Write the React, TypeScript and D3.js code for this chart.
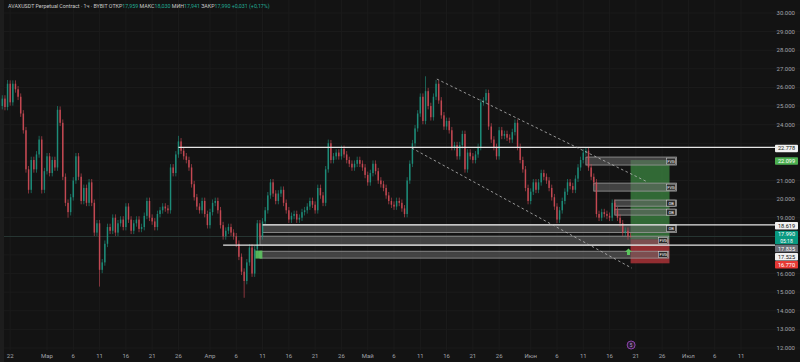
import * as d3 from "d3";

const W = 800;
const H = 362;

// 12h closes, starting 20 Feb 2025 12:00 UTC
const closes = [
  25.4, 24.95, 26.2, 25.2, 26.2, 25.9, 25.5, 24.6, 23.7, 21.6,
  20.5, 22.1, 21.6, 22.4, 23.2, 20.5, 21.5, 22.3, 21.4, 22.1,
  21.7, 24.8, 24.1, 21.2, 19.8, 19.3, 20.1, 21.0, 22.3, 21.2,
  19.9, 20.6, 19.8, 20.9, 19.8, 18.2, 18.7, 16.2, 16.6, 17.6,
  18.5, 18.3, 19.0, 18.2, 18.7, 18.9, 18.5, 19.6, 18.9, 18.3,
  18.7, 18.9, 18.4, 18.5, 19.1, 19.9, 19.0, 18.8, 18.5, 19.2,
  19.4, 19.6, 19.5, 19.4, 21.7, 21.4, 22.4, 23.1, 22.6, 22.3,
  22.1, 21.7, 20.8, 20.1, 19.6, 19.4, 19.9, 19.2, 18.6, 19.3,
  19.8, 19.9, 19.4, 18.6, 18.0, 18.3, 18.5, 18.2, 18.0, 17.6,
  16.9, 16.1, 15.6, 16.6, 17.4, 16.0, 17.3, 18.7, 18.0, 18.8,
  19.4, 20.2, 20.9, 20.3, 19.9, 20.3, 20.5, 19.8, 19.4, 18.9,
  19.1, 19.2, 18.9, 19.0, 19.3, 19.4, 19.6, 19.9, 19.7, 19.4,
  20.6, 20.2, 19.8, 21.6, 23.0, 22.1, 22.3, 22.5, 22.3, 22.7,
  22.4, 22.1, 21.9, 21.7, 21.9, 22.1, 21.9, 21.7, 21.3, 20.9,
  21.4, 21.9, 21.5, 21.0, 20.8, 20.6, 20.2, 19.9, 19.7, 19.6,
  19.9, 19.8, 19.5, 19.2, 21.0, 21.9, 23.0, 23.8, 24.6, 25.5,
  24.2, 25.8, 25.0, 24.4, 25.5, 26.2, 25.3, 24.5, 23.9, 24.2,
  23.7, 22.8, 22.9, 22.3, 22.9, 23.5, 21.6, 22.5, 22.3, 22.1,
  22.4, 22.8, 25.2, 25.3, 25.7, 23.9, 23.2, 22.8, 22.3, 23.7,
  23.4, 23.5, 23.3, 23.2, 23.6, 24.1, 22.8, 22.1, 21.6, 20.6,
  19.9, 20.4, 20.9, 20.5, 20.9, 21.4, 21.2, 21.0, 20.6, 20.1,
  19.6, 18.9, 19.4, 19.9, 20.4, 20.9, 20.7, 20.5, 21.1, 21.7,
  22.1, 22.5, 22.6, 21.7, 21.2, 20.9, 19.2, 19.0, 19.3, 19.2,
  19.1, 19.0, 19.8, 19.4, 19.0, 18.7, 18.2, 18.3, 18.0, 17.99,
];
const firstOpen = 25.0;
const wickHighs: [number, number][] = [
  [2, 26.4], [14, 23.4], [21, 25.0], [67, 23.4], [124, 23.2],
  [161, 26.6], [165, 26.4], [184, 25.9], [222, 22.8],
];
const wickLows: [number, number][] = [
  [10, 20.3], [15, 20.3], [25, 19.0], [37, 15.3], [92, 14.7],
  [211, 18.7], [239, 17.94],
];

const priceTicks = d3.range(12, 31, 1);
const timeTicks: [number, number, string][] = [
  [1, 22, "22"], [2, 1, "Мар"], [2, 6, "6"], [2, 11, "11"], [2, 16, "16"], [2, 21, "21"], [2, 26, "26"],
  [3, 1, "Апр"], [3, 6, "6"], [3, 11, "11"], [3, 16, "16"], [3, 21, "21"], [3, 26, "26"],
  [4, 1, "Май"], [4, 6, "6"], [4, 11, "11"], [4, 16, "16"], [4, 21, "21"], [4, 26, "26"],
  [5, 1, "Июн"], [5, 6, "6"], [5, 11, "11"], [5, 16, "16"], [5, 21, "21"], [5, 26, "26"],
  [6, 1, "Июл"], [6, 6, "6"], [6, 11, "11"],
];

// horizontal levels: price, start candle index
const levels: [number, number][] = [
  [22.778, 67],
  [18.619, 99],
  [17.525, 84],
];

// zones: top, bottom, start candle, end candle, label
const zones: [number, number, number, number, string][] = [
  [22.26, 21.83, 222, 256.5, "FVG"],
  [20.86, 20.43, 225, 256.5, "FVG"],
  [19.95, 19.62, 233, 256.5, "OB"],
  [19.46, 19.14, 233, 256.5, "OB"],
  [18.619, 18.2, 99, 256.5, "OB"],
  [18.01, 17.53, 98, 253.5, "FVG"],
  [17.2, 16.83, 98, 253.5, "FVG"],
];

// long position tool
const target = 22.099;
const entry = 17.835;
const stopBox = 16.55;
const posStart = 239;
const posEnd = 253.8;

// channel: [candleIdx, price]
const upperChannel: [number, number][] = [[165.3, 26.45], [245.6, 20.91]];
const lowerChannel: [number, number][] = [[155.8, 22.74], [239.5, 16.29]];

const tags: { p: number; bg: string; fg: string; sub?: string }[] = [
  { p: 22.778, bg: "#f0f0f0", fg: "#111" },
  { p: 22.099, bg: "#4caf50", fg: "#fff" },
  { p: 18.619, bg: "#f0f0f0", fg: "#111" },
  { p: 17.99, bg: "#089981", fg: "#fff", sub: "05:18" },
  { p: 17.835, bg: "#6d6f78", fg: "#fff" },
  { p: 17.525, bg: "#f0f0f0", fg: "#111" },
  { p: 16.77, bg: "#e53935", fg: "#fff" },
];

const FONT = "Roboto, 'DejaVu Sans', sans-serif";
const t0 = Date.UTC(2025, 1, 20, 12);
const HALF = 12 * 3600 * 1000;

export default function App() {
  const x = d3
    .scaleUtc()
    .domain([Date.UTC(2025, 1, 22), Date.UTC(2025, 6, 11)])
    .range([10.2, 741]);
  const y = d3.scaleLinear().domain([12, 30]).range([348, 13]);
  const xi = (i: number) => x(t0 + i * HALF);
  const fmt = d3.format(".3f");

  const hiMap = new Map(wickHighs);
  const loMap = new Map(wickLows);
  const candles = closes.map((c, i) => {
    const o = i === 0 ? firstOpen : closes[i - 1];
    const hi = hiMap.get(i) ?? Math.max(o, c) + 0.18;
    const lo = loMap.get(i) ?? Math.min(o, c) - 0.18;
    return { i, o, c, hi, lo, up: c >= o };
  });

  // stack price tags so they don't overlap
  let prevBottom = -Infinity;
  const placed = tags.map((t) => {
    const h = t.sub ? 13.5 : 7.5;
    const cy = Math.max(y(t.p) + 1, prevBottom + h / 2 + 0.6);
    prevBottom = cy + h / 2;
    return { ...t, cy, h };
  });
  // axis labels hidden behind tags
  const visibleTicks = priceTicks.filter((p) =>
    placed.every((t) => Math.abs(y(p) - t.cy) > t.h / 2 + 3.5)
  );

  return (
    <div style={{ position: "fixed", left: 0, top: 0, width: W, height: H, background: "#131313" }}>
      <svg width={W} height={H} style={{ display: "block", fontFamily: FONT }}>
        <rect width={W} height={H} fill="#131313" />
        <rect width={4} height={H} fill="#1d1d1d" />

        {/* grid */}
        {priceTicks.map((p) => (
          <line key={"hg" + p} x1={4} x2={W} y1={y(p)} y2={y(p)} stroke="#1b1b1b" strokeWidth={1} />
        ))}
        {timeTicks.map(([m, d]) => (
          <line key={"vg" + m + "-" + d} x1={x(Date.UTC(2025, m, d))} x2={x(Date.UTC(2025, m, d))} y1={0} y2={H - 12} stroke="#1b1b1b" strokeWidth={1} />
        ))}

        {/* current price line */}
        <line x1={4} x2={775} y1={y(17.99)} y2={y(17.99)} stroke="#2b3d3a" strokeWidth={0.8} />

        {/* position tool */}
        <rect x={xi(posStart)} y={y(target)} width={xi(posEnd) - xi(posStart)} height={y(entry) - y(target)} fill="#3f8f45" fillOpacity={0.7} />
        <rect x={xi(posStart)} y={y(entry)} width={xi(posEnd) - xi(posStart)} height={y(stopBox) - y(entry)} fill="#b3353a" fillOpacity={0.8} />

        {/* zones */}
        {zones.map(([top, bot, s, e, label], k) => {
          const x0 = xi(s);
          const x1 = xi(e);
          const y0 = y(top);
          const y1 = y(bot);
          return (
            <g key={"z" + k}>
              <rect x={x0} y={y0} width={x1 - x0} height={y1 - y0} fill="#6a6a6a" fillOpacity={0.55} stroke="#9a9a9a" strokeWidth={0.8} />
              <rect x={x1 - 10} y={(y0 + y1) / 2 - 3} width={9} height={6} fill="#2a2a2a" stroke="#ddd" strokeWidth={0.5} />
              <text x={x1 - 5.5} y={(y0 + y1) / 2 + 1.6} fontSize={4} fill="#fff" textAnchor="middle">{label}</text>
            </g>
          );
        })}

        {/* candles */}
        {candles.map((d) => {
          const cx = xi(d.i);
          const col = d.up ? "#1f9480" : "#d04c57";
          const top = y(Math.max(d.o, d.c));
          const bot = y(Math.min(d.o, d.c));
          return (
            <g key={"c" + d.i}>
              <line x1={cx} x2={cx} y1={y(d.hi)} y2={y(d.lo)} stroke={col} strokeWidth={0.7} opacity={0.9} />
              <rect x={cx - 0.75} y={top} width={1.5} height={Math.max(bot - top, 0.7)} fill={col} opacity={0.85} />
            </g>
          );
        })}

        {/* horizontal levels */}
        {levels.map(([p, s]) => (
          <line key={"l" + p} x1={xi(s)} x2={775} y1={y(p)} y2={y(p)} stroke="#e6e6e6" strokeWidth={1.3} />
        ))}

        {/* channel */}
        {[upperChannel, lowerChannel].map((ln, k) => (
          <line key={"ch" + k} x1={xi(ln[0][0])} y1={y(ln[0][1])} x2={xi(ln[1][0])} y2={y(ln[1][1])} stroke="#b8b8b8" strokeWidth={0.8} strokeDasharray="2.5,2.5" />
        ))}

        {/* markers */}
        <rect x={xi(97.6) - 3.5} y={y(17.02) - 4} width={7} height={8} fill="#5cc45f" opacity={0.9} />
        <path d={`M${xi(238.2)},${y(17.35)} l3.5,3.5 h-2 v3 h-3 v-3 h-2 z`} fill="#5cc45f" />
        <circle cx={xi(239.2)} cy={345} r={4} fill="#2a1c33" stroke="#8e44ad" strokeWidth={1} />
        <text x={xi(239.2)} y={346.8} fontSize={4.5} fill="#c39bd3" textAnchor="middle">5</text>

        {/* price axis labels */}
        {visibleTicks.map((p) => (
          <text key={"pt" + p} x={795} y={y(p) + 2} fontSize={6} fill="#a0a3aa" textAnchor="end">{fmt(p)}</text>
        ))}

        {/* price tags */}
        {placed.map((t) => (
          <g key={"tag" + t.p}>
            <rect x={775} y={t.cy - t.h / 2} width={23} height={t.h} fill={t.bg} rx={0.8} />
            <text x={786.5} y={t.sub ? t.cy - 1.4 : t.cy + 2} fontSize={5.6} fill={t.fg} textAnchor="middle">{fmt(t.p)}</text>
            {t.sub && (
              <text x={786.5} y={t.cy + 5} fontSize={5} fill={t.fg} textAnchor="middle">{t.sub}</text>
            )}
          </g>
        ))}

        {/* time axis */}
        {timeTicks.map(([m, d, label]) => (
          <text key={"tt" + m + "-" + d} x={x(Date.UTC(2025, m, d))} y={358} fontSize={6} fill="#a0a3aa" textAnchor="middle">{label}</text>
        ))}

        {/* header */}
        <text x={8} y={8} fontSize={5.3} fill="#c9c9c9">
          AVAXUSDT Perpetual Contract · 1ч · BYBIT{"  "}ОТКР
          <tspan fill="#22ab94">17,959</tspan> МАКС<tspan fill="#22ab94">18,030</tspan> МИН
          <tspan fill="#22ab94">17,941</tspan> ЗАКР<tspan fill="#22ab94">17,990 +0,031 (+0,17%)</tspan>
        </text>
      </svg>
    </div>
  );
}
